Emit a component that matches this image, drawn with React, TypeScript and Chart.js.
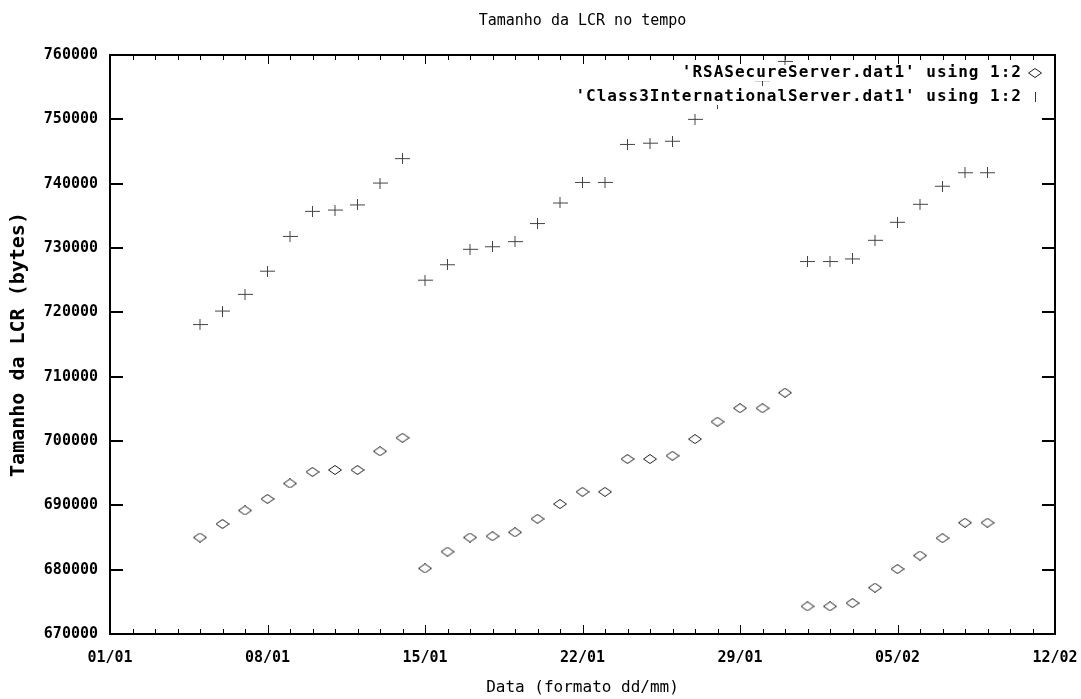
import React, { useEffect, useRef } from 'react';
import { Chart, registerables } from 'chart.js';

Chart.register(...registerables);

// ---- data ----
const chartTitle = 'Tamanho da LCR no tempo';
const xTitle = 'Data (formato dd/mm)';
const yTitle = 'Tamanho da LCR (bytes)';
const rsaLabel = "'RSASecureServer.dat1' using 1:2";
const class3Label = "'Class3InternationalServer.dat1' using 1:2";

const xTickLabels = ['01/01', '08/01', '15/01', '22/01', '29/01', '05/02', '12/02'];

const dates = [
  '05/01', '06/01', '07/01', '08/01', '09/01', '10/01', '11/01', '12/01', '13/01', '14/01',
  '15/01', '16/01', '17/01', '18/01', '19/01', '20/01', '21/01', '22/01', '23/01', '24/01',
  '25/01', '26/01', '27/01', '28/01', '29/01', '30/01', '31/01',
  '01/02', '02/02', '03/02', '04/02', '05/02', '06/02', '07/02', '08/02', '09/02',
];

const rsaValues = [
  685000, 687100, 689200, 691000, 693400, 695200, 695500, 695500, 698400, 700500,
  680200, 682800, 685000, 685200, 685800, 687900, 690200, 692100, 692100, 697200,
  697200, 697700, 700300, 703000, 705100, 705100, 707500,
  674300, 674300, 674800, 677200, 680100, 682200, 684900, 687300, 687300,
];

const class3Values = [
  718100, 720200, 722800, 726400, 731800, 735700, 735900, 736700, 740100, 743900,
  725000, 727400, 729800, 730200, 731000, 733800, 737000, 740200, 740200, 746100,
  746300, 746600, 750000, 752500, 753800, 756000, 759000,
  727900, 727900, 728300, 731200, 734000, 736800, 739600, 741700, 741700,
];

const yMin = 670000;
const yMax = 760000;
const yStep = 10000;
const xMinDay = 0; // 01/01
const xMaxDay = 42; // 12/02

// ---- helpers ----
const monthStart = [0, 31];
function dayIndex(s: string): number {
  const [d, m] = s.split('/').map(Number);
  return monthStart[m - 1] + d - 1;
}
function dayLabel(idx: number): string {
  const m = idx >= 31 ? 2 : 1;
  const d = idx - monthStart[m - 1] + 1;
  return `${String(d).padStart(2, '0')}/${String(m).padStart(2, '0')}`;
}

function makeDiamond(): HTMLCanvasElement {
  const c = document.createElement('canvas');
  c.width = 14;
  c.height = 10;
  const g = c.getContext('2d')!;
  g.strokeStyle = '#222';
  g.lineWidth = 1;
  g.beginPath();
  g.moveTo(0.5, 5);
  g.lineTo(7, 0.5);
  g.lineTo(13.5, 5);
  g.lineTo(7, 9.5);
  g.closePath();
  g.stroke();
  return c;
}

function makeCross(): HTMLCanvasElement {
  const c = document.createElement('canvas');
  c.width = 15;
  c.height = 11;
  const g = c.getContext('2d')!;
  g.strokeStyle = '#444';
  g.lineWidth = 1;
  g.beginPath();
  g.moveTo(0, 5.5);
  g.lineTo(15, 5.5);
  g.moveTo(7.5, 0);
  g.lineTo(7.5, 11);
  g.stroke();
  return c;
}

const MONO = "'DejaVu Sans Mono', monospace";

export default function App() {
  const ref = useRef<HTMLCanvasElement | null>(null);

  useEffect(() => {
    if (!ref.current) return;
    const diamond = makeDiamond();
    const cross = makeCross();

    const framePlugin = {
      id: 'gnuplotFrame',
      beforeDatasetsDraw(chart: any) {
        const { ctx, chartArea: a, scales } = chart;
        ctx.save();
        ctx.strokeStyle = '#000';
        ctx.lineWidth = 1;
        ctx.beginPath();
        for (let d = xMinDay + 1; d < xMaxDay; d++) {
          const px = Math.round(scales.x.getPixelForValue(d)) + 0.5;
          const len = d % 7 === 0 ? 9 : 5;
          ctx.moveTo(px, a.bottom);
          ctx.lineTo(px, a.bottom - len);
          ctx.moveTo(px, a.top);
          ctx.lineTo(px, a.top + len);
        }
        ctx.stroke();
        ctx.lineWidth = 2;
        ctx.beginPath();
        for (let v = yMin + yStep; v < yMax; v += yStep) {
          const py = Math.round(scales.y.getPixelForValue(v));
          ctx.moveTo(a.left, py);
          ctx.lineTo(a.left + 13, py);
          ctx.moveTo(a.right, py);
          ctx.lineTo(a.right - 13, py);
        }
        ctx.stroke();
        ctx.lineWidth = 2;
        ctx.strokeRect(a.left, a.top, a.right - a.left, a.bottom - a.top);
        ctx.restore();
      },
      afterDatasetsDraw(chart: any) {
        const { ctx } = chart;
        ctx.save();
        ctx.font = `bold 16px ${MONO}`;
        (ctx as any).letterSpacing = '1px';
        ctx.textAlign = 'right';
        ctx.textBaseline = 'middle';
        const rows = [
          { text: rsaLabel, y: 73 },
          { text: class3Label, y: 97 },
        ];
        const xr = 1022;
        rows.forEach((r) => {
          const w = ctx.measureText(r.text).width;
          ctx.fillStyle = '#fff';
          ctx.fillRect(xr - w - 2, r.y - 8, w + 4, 16);
          ctx.fillStyle = '#000';
          ctx.fillText(r.text, xr, r.y);
        });
        ctx.drawImage(diamond, 1035 - 7, 73 - 5);
        ctx.strokeStyle = '#333';
        ctx.lineWidth = 1;
        ctx.beginPath();
        ctx.moveTo(1035.5, 92);
        ctx.lineTo(1035.5, 102);
        ctx.stroke();
        ctx.restore();
      },
    };

    const rsaPoints = dates.map((d, i) => ({ x: dayIndex(d), y: rsaValues[i] }));
    const c3Points = dates.map((d, i) => ({ x: dayIndex(d), y: class3Values[i] }));

    const chart = new Chart(ref.current, {
      type: 'scatter',
      data: {
        datasets: [
          {
            label: rsaLabel,
            data: rsaPoints,
            pointStyle: diamond as any,
            pointRadius: 6,
            showLine: false,
          },
          {
            label: class3Label,
            data: c3Points,
            pointStyle: cross as any,
            pointRadius: 6,
            showLine: false,
          },
        ],
      },
      options: {
        responsive: false,
        animation: false,
        devicePixelRatio: 1,
        layout: { padding: { left: 0, right: 26, top: 0, bottom: 0 } },
        plugins: {
          legend: { display: false },
          tooltip: { enabled: false },
          title: {
            display: true,
            fullSize: false,
            text: chartTitle,
            color: '#000',
            font: { family: MONO, size: 15, weight: 'normal' },
            padding: { top: 12, bottom: 25 },
          },
        },
        scales: {
          x: {
            type: 'linear',
            min: xMinDay,
            max: xMaxDay,
            grid: { display: false, drawTicks: false },
            border: { display: false },
            afterFit: (s: any) => {
              s.height = 65;
              s.paddingLeft = 0;
              s.paddingRight = 0;
            },
            afterBuildTicks: (s: any) => {
              s.ticks = xTickLabels.map((l) => ({ value: dayIndex(l) }));
            },
            ticks: {
              color: '#000',
              font: { family: MONO, size: 15, weight: 'bold' },
              padding: 15,
              maxRotation: 0,
              autoSkip: false,
              callback: (v: any) => dayLabel(Number(v)),
            },
            title: {
              display: true,
              text: xTitle,
              color: '#000',
              font: { family: MONO, size: 16, weight: 'normal' },
              padding: { top: 0, bottom: 2 },
            },
          },
          y: {
            type: 'linear',
            min: yMin,
            max: yMax,
            grid: { display: false, drawTicks: false },
            border: { display: false },
            afterFit: (s: any) => {
              s.width = 110;
              s.paddingTop = 0;
              s.paddingBottom = 0;
            },
            ticks: {
              stepSize: yStep,
              color: '#000',
              font: { family: MONO, size: 15, weight: 'bold' },
              padding: 12,
              callback: (v: any) => String(v),
            },
            title: {
              display: true,
              text: yTitle,
              color: '#000',
              font: { family: MONO, size: 20, weight: 'bold' },
              padding: { top: 7, bottom: 0 },
            },
          },
        },
      },
      plugins: [framePlugin],
    });

    return () => chart.destroy();
  }, []);

  return (
    <div style={{ position: 'fixed', left: 0, top: 0, width: 1081, height: 699, background: '#fff' }}>
      <canvas ref={ref} width={1081} height={699} style={{ display: 'block' }} />
    </div>
  );
}
